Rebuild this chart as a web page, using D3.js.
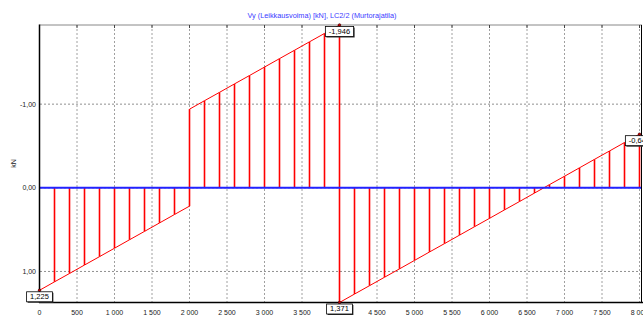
<!DOCTYPE html>
<html>
<head>
<meta charset="utf-8">
<script src="https://cdn.jsdelivr.net/npm/d3@7"></script>
<style>
  body { margin: 0; background: #fff; }
  svg { display: block; font-family: "Liberation Sans", Arial, sans-serif; }
</style>
</head>
<body>
<svg id="graph"></svg>
<script>
const stationsA = [0, 200, 400, 600, 800, 1000, 1200, 1400, 1600, 1800, 2000];
const shearA = [1.225, 1.124, 1.024, 0.923, 0.823, 0.722, 0.621, 0.521, 0.420, 0.319, 0.219];
const stationsB = [2000, 2200, 2400, 2600, 2800, 3000, 3200, 3400, 3600, 3800, 4000];
const shearB = [-0.940, -1.041, -1.141, -1.242, -1.342, -1.443, -1.544, -1.644, -1.745, -1.845, -1.946];
const stationsC = [4000, 4200, 4400, 4600, 4800, 5000, 5200, 5400, 5600, 5800, 6000,
                   6200, 6400, 6600, 6800, 7000, 7200, 7400, 7600, 7800, 8000];
const shearC = [1.371, 1.270, 1.170, 1.069, 0.969, 0.868, 0.767, 0.667, 0.566, 0.465, 0.365,
                0.264, 0.164, 0.063, -0.038, -0.138, -0.239, -0.340, -0.440, -0.541, -0.641];
// labelled extreme values
const markX = [0, 4000, 4000, 8000];
const markV = [1.225, -1.946, 1.371, -0.641];
const xTicks = [0, 500, 1000, 1500, 2000, 2500, 3000, 3500, 4000, 4500, 5000, 5500, 6000, 6500, 7000, 7500, 8000];
const yTicks = [-1, 0, 1];
const titleText = "Vy (Leikkausvoima) [kN], LC2/2 (Murtorajatila)";
const yLabel = "kN";

var width = 643, height = 316;
var svg = d3.select("#graph").attr("width", width).attr("height", height);

var fi = d3.formatLocale({decimal: ",", thousands: "\u00a0", grouping: [3], currency: ["", ""], minus: "-"});
var fmtX = fi.format(",d");
var fmtY = fi.format(".2f");
var fmtV = fi.format(".3f");

var x = d3.scaleLinear().domain([0, 8000]).range([39.5, 639.5]);
var y = d3.scaleLinear().domain([-1.946, 1.371]).range([25, 302.5]);

var pts = [];
stationsA.forEach((s, i) => pts.push({s: s, v: shearA[i]}));
stationsB.forEach((s, i) => pts.push({s: s, v: shearB[i]}));
stationsC.forEach((s, i) => pts.push({s: s, v: shearC[i]}));

// title
svg.append("text")
   .attr("x", 322).attr("y", 18)
   .attr("text-anchor", "middle")
   .attr("font-size", 7.3)
   .attr("fill", "#3b3bff")
   .text(titleText);

// grid
var grid = svg.append("g");
grid.selectAll("line.vx")
    .data(xTicks.slice(1))
    .join("line")
    .attr("x1", d => x(d)).attr("x2", d => x(d))
    .attr("y1", 25).attr("y2", 302.5)
    .attr("stroke", "#a0a0a0")
    .attr("stroke-dasharray", "2,2");
grid.selectAll("line.hy")
    .data(yTicks)
    .join("line")
    .attr("x1", 40).attr("x2", 641)
    .attr("y1", d => y(d)).attr("y2", d => y(d))
    .attr("stroke", "#909090")
    .attr("stroke-dasharray", "2,2");

// top frame with inward ticks
svg.append("line")
   .attr("x1", 39.5).attr("x2", 642).attr("y1", 25).attr("y2", 25)
   .attr("stroke", "#888").attr("stroke-width", 1);
svg.append("g").selectAll("line")
   .data(xTicks.slice(1))
   .join("line")
   .attr("x1", d => x(d)).attr("x2", d => x(d))
   .attr("y1", 25).attr("y2", 28)
   .attr("stroke", "#444");

// stems
var gc = svg.append("g");
gc.selectAll("line")
  .data(pts.filter(d => d.s > 0))
  .join("line")
  .attr("x1", d => x(d.s)).attr("x2", d => x(d.s))
  .attr("y1", y(0)).attr("y2", d => y(d.v))
  .attr("stroke", "#ff0000")
  .attr("stroke-width", 1.6);

// outline
gc.append("path")
  .datum(pts)
  .attr("fill", "none")
  .attr("stroke", "#ff0000")
  .attr("stroke-width", 1)
  .attr("d", d3.line().x(d => x(d.s)).y(d => y(d.v)));

// zero line
svg.append("line")
   .attr("x1", 40).attr("x2", 641)
   .attr("y1", y(0)).attr("y2", y(0))
   .attr("stroke", "#2222ff").attr("stroke-width", 2);

// left and bottom frame
svg.append("line")
   .attr("x1", 39.5).attr("x2", 39.5).attr("y1", 24.5).attr("y2", 303)
   .attr("stroke", "#000").attr("stroke-width", 1.5);
svg.append("line")
   .attr("x1", 39).attr("x2", 643).attr("y1", 302.5).attr("y2", 302.5)
   .attr("stroke", "#000").attr("stroke-width", 1.5);
svg.append("line")
   .attr("x1", 641.5).attr("x2", 641.5).attr("y1", 25).attr("y2", 303)
   .attr("stroke", "#000").attr("stroke-width", 1);

// tick labels (the 4 000 label sits under the 1,371 box, so it is left out)
svg.append("g").selectAll("text")
   .data(xTicks.filter(d => d !== 4000))
   .join("text")
   .attr("x", d => x(d)).attr("y", 315)
   .attr("text-anchor", "middle")
   .attr("font-size", 7)
   .attr("fill", "#222")
   .text(d => fmtX(d));
svg.append("g").selectAll("text")
   .data(yTicks)
   .join("text")
   .attr("x", 36).attr("y", d => y(d))
   .attr("dy", "0.35em")
   .attr("text-anchor", "end")
   .attr("font-size", 7)
   .attr("fill", "#222")
   .text(d => fmtY(d));
svg.append("text")
   .attr("transform", "translate(16,163.5) rotate(-90)")
   .attr("text-anchor", "middle")
   .attr("font-size", 7)
   .attr("fill", "#222")
   .text(yLabel);

// value boxes
var marks = markX.map((s, i) => ({s: s, v: markV[i]}));
var mg = svg.append("g").selectAll("g")
   .data(marks)
   .join("g")
   .attr("transform", d => "translate(" + x(d.s) + "," + y(d.v) + ")");
mg.append("circle")
  .attr("r", 1.3)
  .attr("fill", "#cc0000")
  .attr("stroke", "#300")
  .attr("stroke-width", 0.6);
mg.each(function(d){
    var g = d3.select(this);
    var t = g.append("text")
             .attr("x", 0).attr("y", 8.8)
             .attr("text-anchor", "middle")
             .attr("font-size", 7.5)
             .attr("fill", "#000")
             .text(fmtV(d.v));
    var w = t.node().getComputedTextLength() + 7;
    g.insert("rect", "text")
     .attr("x", -w/2 + 1).attr("y", 2.5)
     .attr("width", w).attr("height", 10)
     .attr("fill", "#333");
    g.insert("rect", "text")
     .attr("x", -w/2).attr("y", 1.5)
     .attr("width", w).attr("height", 10)
     .attr("fill", "#fff")
     .attr("stroke", "#000")
     .attr("stroke-width", 0.8);
});
</script>
</body>
</html>
